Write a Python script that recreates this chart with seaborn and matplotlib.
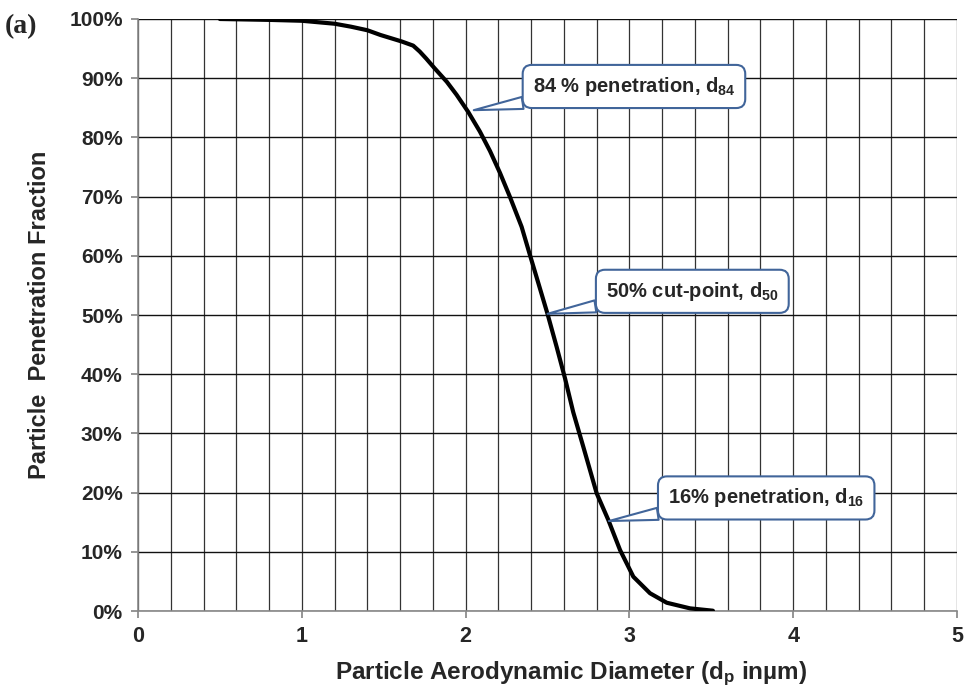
import numpy as np
import pandas as pd
import matplotlib.pyplot as plt
import seaborn as sns
from matplotlib.ticker import MultipleLocator, PercentFormatter

# --- data ---
diameter = [0.5, 0.8, 1.0, 1.2, 1.3, 1.4, 1.48, 1.61, 1.68, 1.72, 1.76, 1.81, 1.885, 1.945, 2.016,
            2.087, 2.149, 2.21, 2.27, 2.342, 2.39, 2.444, 2.5, 2.556, 2.607, 2.657, 2.718, 2.8,
            2.871, 2.943, 3.024, 3.126, 3.228, 3.37, 3.51]
penetration = [100.0, 99.85, 99.7, 99.2, 98.7, 98.1, 97.3, 96.2, 95.5, 94.5, 93.3, 91.7, 89.4, 87.2,
               84.3, 81.0, 77.7, 74.0, 70.0, 64.9, 60.4, 55.4, 50.2, 44.6, 39.3, 33.6, 27.8, 19.9,
               15.4, 10.3, 5.8, 3.0, 1.4, 0.45, 0.05]

callout_text = ['84 % penetration, d$_{84}$', '50% cut-point, d$_{50}$', '16% penetration, d$_{16}$']
callout_xy = [(2.05, 84.6), (2.5, 50.2), (2.875, 15.2)]
callout_pos = [(2.41, 88.6), (2.857, 54.0), (3.236, 19.1)]

df = pd.DataFrame({'d': diameter, 'p': penetration})

sns.set_theme(style='white')
plt.rcParams['font.family'] = ['Liberation Sans', 'DejaVu Sans']
plt.rcParams['font.weight'] = 'bold'
plt.rcParams['mathtext.fontset'] = 'custom'
plt.rcParams['mathtext.rm'] = 'Liberation Sans:bold'
plt.rcParams['mathtext.it'] = 'Liberation Sans:bold'
plt.rcParams['mathtext.bf'] = 'Liberation Sans:bold'

fig = plt.figure(figsize=(9.65, 6.93), dpi=100)
ax = fig.add_axes([0.143, 0.1183, 0.8487, 0.8543])

sns.lineplot(data=df, x='d', y='p', ax=ax, color='black', linewidth=3, zorder=5,
             solid_joinstyle='round', solid_capstyle='round')

ax.set_xlim(0, 5)
ax.set_ylim(0, 100)
ax.xaxis.set_major_locator(MultipleLocator(1))
ax.xaxis.set_minor_locator(MultipleLocator(0.2))
ax.yaxis.set_major_locator(MultipleLocator(10))
ax.yaxis.set_major_formatter(PercentFormatter(decimals=0))

ax.grid(which='major', axis='y', color='#111111', linewidth=1.0)
ax.grid(which='both', axis='x', color='#333333', linewidth=0.9)
ax.set_axisbelow(True)

for s in ['top', 'right']:
    ax.spines[s].set_visible(False)
for s in ['left', 'bottom']:
    ax.spines[s].set_color('#888888')
    ax.spines[s].set_linewidth(1.2)

ax.tick_params(axis='both', which='major', length=5, color='#888888', pad=6)
ax.tick_params(axis='x', which='minor', length=0)
ax.tick_params(axis='y', which='major', direction='out', left=True, labelsize=15)
ax.tick_params(axis='x', which='major', direction='out', bottom=True, labelsize=15.5)
for lab in ax.get_xticklabels() + ax.get_yticklabels():
    lab.set_fontweight('bold')

ax.set_xlabel('Particle Aerodynamic Diameter (d$_{p}$ in\u00b5m)', fontsize=17.5, fontweight='bold')
ax.xaxis.set_label_coords(0.529, -0.082)
ax.set_ylabel('Particle  Penetration Fraction', fontsize=17, fontweight='bold')
ax.yaxis.set_label_coords(-0.106, 0.5)

blue = '#41659a'
for txt, xy, pos in zip(callout_text, callout_xy, callout_pos):
    ax.annotate(txt, xy=xy, xytext=pos, ha='left', va='center', fontsize=14.5, fontweight='bold',
                zorder=10,
                bbox=dict(boxstyle='round,pad=0.5,rounding_size=0.45', fc='white', ec=blue, lw=1.5),
                arrowprops=dict(arrowstyle='wedge,tail_width=0.6,shrink_factor=0.5', fc='white',
                                ec=blue, lw=1.5, shrinkA=0, shrinkB=0))

fig.text(0.005, 0.962, '(a)', fontsize=20, fontweight='bold', family='Liberation Serif', va='center')

fig.savefig('out.png', dpi=100)
